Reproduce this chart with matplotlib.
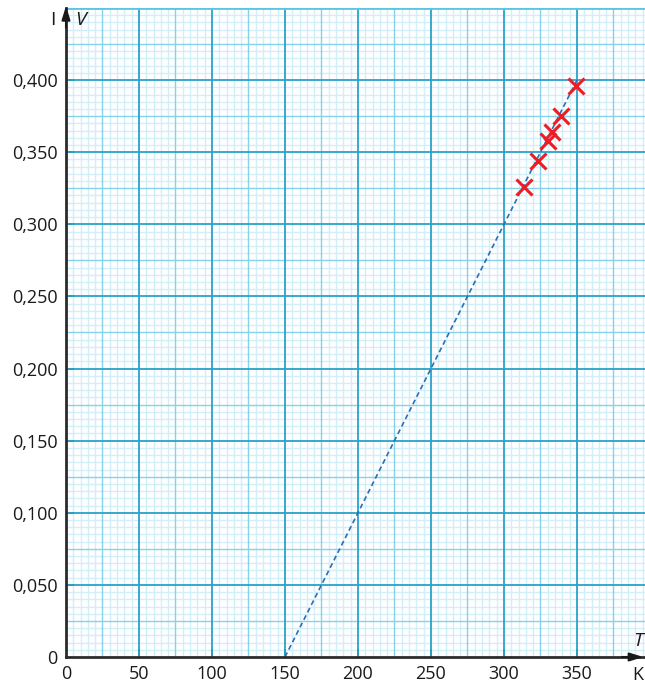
import numpy as np
import matplotlib
matplotlib.use("Agg")
import matplotlib.pyplot as plt

# Measured points: temperature T (K) and voltage V (V)
temperature = [314, 323, 330, 333, 339, 349]
voltage = [0.326, 0.344, 0.358, 0.364, 0.375, 0.396]

# Extrapolated straight line through the measurements
fit_T = [150, 350]
fit_V = [0.0, 0.400]

x_ticks = [0, 50, 100, 150, 200, 250, 300, 350]
y_ticks = [0, 0.05, 0.10, 0.15, 0.20, 0.25, 0.30, 0.35, 0.40]
y_labels = ["0", "0,050", "0,100", "0,150", "0,200", "0,250", "0,300", "0,350", "0,400"]

X_MAX, Y_MAX = 396.6, 0.450

plt.rcParams["font.family"] = ["Open Sans", "DejaVu Sans"]

W, H = 645, 684
fig = plt.figure(figsize=(W / 100, H / 100), dpi=100)
left, bottom_px, top_px = 66, 657, 8
ax = fig.add_axes([left / W, (H - bottom_px) / H, (W - left) / W, (bottom_px - top_px) / H])
ax.set_xlim(0, X_MAX)
ax.set_ylim(0, Y_MAX)

# Graph paper: fine, medium and bold rulings
minor_c, mid_c, major_c = "#d2eef8", "#86d2ea", "#29a2cc"
for xv in np.arange(0, X_MAX, 5):
    if xv % 50 == 0:
        continue
    ax.axvline(xv, color=mid_c if xv % 25 == 0 else minor_c, lw=1.0, zorder=1 if xv % 25 else 2)
for yv in np.arange(0, Y_MAX + 1e-9, 0.005):
    k = int(round(yv / 0.005))
    if k % 10 == 0:
        continue
    ax.axhline(yv, color=mid_c if k % 5 == 0 else minor_c, lw=1.0, zorder=1 if k % 5 else 2)
for xv in np.arange(50, X_MAX, 50):
    ax.axvline(xv, color=major_c, lw=1.3, zorder=3)
for k in range(1, 10):
    ax.axhline(k * 0.05, color=major_c if k < 9 else "#5cc6e0", lw=1.3 if k < 9 else 2.0, zorder=3)

# Fit line and measured points
ax.plot(fit_T, fit_V, color="#2a6fb3", lw=1.2, ls=(0, (3, 2)), zorder=5)
ax.plot(temperature, voltage, ls="none", marker="x", ms=11, mew=2.2, color="#ee1c25", zorder=6)

# Axes
for s in ("top", "right"):
    ax.spines[s].set_visible(False)
for s in ("left", "bottom"):
    ax.spines[s].set_color("#2b2b2b")
    ax.spines[s].set_linewidth(2.0)
    ax.spines[s].set_zorder(7)

ax.set_xticks(x_ticks)
ax.set_xticklabels([str(v) for v in x_ticks])
ax.set_yticks(y_ticks)
ax.set_yticklabels(y_labels)
ax.tick_params(direction="in", length=6, width=1.3, color="#555555", labelsize=13,
               labelcolor="#1a1a1a")
ax.tick_params(axis="x", pad=6)
ax.tick_params(axis="y", pad=6)
for t in ax.xaxis.get_major_ticks() + ax.yaxis.get_major_ticks():
    t.tick1line.set_zorder(8)
ax.yaxis.get_major_ticks()[0].tick1line.set_visible(False)
ax.xaxis.get_major_ticks()[0].tick1line.set_visible(False)

# Arrow heads on both axes
ax.annotate("", xy=(0, 1.003), xytext=(0, 0.97), xycoords="axes fraction",
            arrowprops=dict(arrowstyle="-|>,head_length=0.8,head_width=0.25",
                            color="#1a1a1a", lw=1.5, shrinkA=0, shrinkB=0),
            annotation_clip=False, zorder=9)
ax.annotate("", xy=(0.997, 0), xytext=(0.96, 0), xycoords="axes fraction",
            arrowprops=dict(arrowstyle="-|>,head_length=0.8,head_width=0.25",
                            color="#1a1a1a", lw=1.5, shrinkA=0, shrinkB=0),
            annotation_clip=False, zorder=9)

# Axis quantity and unit labels
fig.text(53 / W, 1 - 20 / H, "I", fontsize=14, ha="center", va="center", color="#1a1a1a")
fig.text(81 / W, 1 - 20 / H, "V", fontsize=14, style="italic", ha="center", va="center", color="#1a1a1a")
fig.text(638 / W, 1 - 641 / H, "T", fontsize=14, style="italic", ha="center", va="center", color="#1a1a1a")
fig.text(638 / W, 1 - 675 / H, "K", fontsize=13, ha="center", va="center", color="#1a1a1a")

fig.savefig("out.png", dpi=100)
